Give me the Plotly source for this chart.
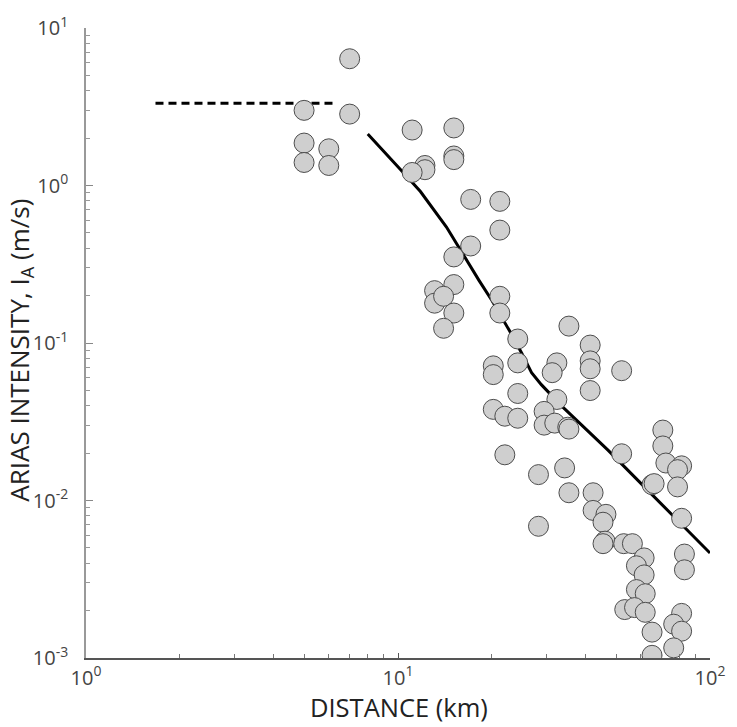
import plotly.graph_objects as go

# Recorded Arias intensity against source distance
distance_km = [
    5.0, 5.0, 5.0, 6.0, 6.0, 7.0, 7.0,
    11.1, 15.1, 15.1, 15.1, 12.2, 12.2, 11.1, 17.1, 21.2, 21.2, 17.1, 15.1,
    15.1, 13.1, 13.1, 14.0, 15.1, 14.0, 21.2, 21.2, 24.2,
    35.3, 41.3, 41.3, 41.3, 20.2, 20.2, 24.2, 32.3, 31.2, 41.3, 24.2, 32.3,
    20.2, 22.0, 24.2, 29.4, 29.4, 31.8, 35.0, 35.3, 22.0, 28.2, 34.2, 35.3,
    42.2, 28.2, 52.1,
    70.6, 70.6, 72.2, 81.1, 78.7, 65.2, 66.2, 78.7, 52.1, 81.1, 82.8, 82.8,
    42.2, 46.4, 45.4, 46.1, 45.4, 52.9, 56.4, 61.5, 58.1, 61.5, 58.1, 62.0,
    53.3, 57.3, 62.0, 65.2, 65.2, 81.1, 76.5, 81.1, 76.5,
]
arias_ms = [
    3.00, 1.86, 1.40, 1.71, 1.34, 6.38, 2.84,
    2.25, 2.32, 1.54, 1.46, 1.34, 1.26, 1.21, 0.816, 0.793, 0.521, 0.413, 0.352,
    0.235, 0.215, 0.179, 0.198, 0.155, 0.124, 0.198, 0.155, 0.106,
    0.128, 0.097, 0.077, 0.0686, 0.0716, 0.0630, 0.0748, 0.0748, 0.0648, 0.0499, 0.0478, 0.0438,
    0.0379, 0.0343, 0.0333, 0.0368, 0.0301, 0.0310, 0.0292, 0.0284, 0.0195, 0.0146, 0.0161, 0.0112,
    0.0112, 0.00686, 0.0667,
    0.0280, 0.0222, 0.0173, 0.0166, 0.0157, 0.0126, 0.0128, 0.0122, 0.0198, 0.00771, 0.00457, 0.00363,
    0.00865, 0.00817, 0.00728, 0.00552, 0.00532, 0.00532, 0.00532, 0.00432, 0.00385, 0.00337, 0.00272, 0.00256,
    0.00203, 0.00209, 0.00195, 0.00146, 0.00104, 0.00192, 0.00164, 0.00148, 0.00116,
]

# Attenuation relation (solid) and near-field plateau (dashed)
fit_x = [8.0, 9.04, 10.2, 11.8, 14.3, 18.2, 20.0, 22.8, 24.9, 26.8,
         28.8, 33.3, 47.1, 65.2, 100.0]
fit_y = [2.12, 1.64, 1.26, 0.916, 0.545, 0.249, 0.186, 0.119, 0.0865,
         0.0647, 0.0544, 0.0402, 0.0209, 0.0109, 0.00464]
plateau_x = [1.67, 6.2]
plateau_y = [3.33, 3.33]

x_ticks = [1, 10, 100]
x_tick_text = ["10<sup>0</sup>", "10<sup>1</sup>", "10<sup>2</sup>"]
y_ticks = [0.001, 0.01, 0.1, 1, 10]
y_tick_text = ["10<sup>-3</sup>", "10<sup>-2</sup>", "10<sup>-1</sup>",
               "10<sup>0</sup>", "10<sup>1</sup>"]

x_minor = [m * d for d in (1, 10) for m in range(2, 10)]
y_minor = [m * d for d in (0.001, 0.01, 0.1, 1) for m in range(2, 10)]

FONT = "Open Sans, Noto Sans, sans-serif"

fig = go.Figure()
fig.add_trace(go.Scatter(
    x=fit_x, y=fit_y, mode="lines",
    line=dict(color="black", width=3), hoverinfo="skip",
))
fig.add_trace(go.Scatter(
    x=plateau_x, y=plateau_y, mode="lines",
    line=dict(color="black", width=3, dash="8px,5px"), hoverinfo="skip",
))
fig.add_trace(go.Scatter(
    x=distance_km, y=arias_ms, mode="markers",
    marker=dict(size=20, color="#cfcfcf", line=dict(color="#4d4d4d", width=1)),
))

fig.update_layout(
    width=737, height=727,
    margin=dict(l=86, r=15, t=22, b=69),
    paper_bgcolor="white", plot_bgcolor="white",
    showlegend=False,
    font=dict(family=FONT, color="#333333"),
    annotations=[
        dict(text="DISTANCE (km)", xref="paper", yref="paper",
             x=0.5016, y=-0.0785, xanchor="center", yanchor="middle",
             showarrow=False, font=dict(size=25.5, color="#222222")),
        dict(text="ARIAS INTENSITY, I<sub>A</sub> (m/s)", xref="paper", yref="paper",
             x=-0.106, y=0.489, xanchor="center", yanchor="middle", textangle=-90,
             showarrow=False, font=dict(size=26, color="#222222")),
    ],
)
fig.update_xaxes(
    type="log", range=[0, 2],
    tickmode="array", tickvals=x_ticks, ticktext=x_tick_text,
    tickfont=dict(size=20, color="#444444"),
    ticks="inside", ticklen=5, tickcolor="#555555",
    ticklabelstandoff=1, ticklabeloverflow="allow",
    minor=dict(tickmode="array", tickvals=x_minor, ticks="inside",
               ticklen=4, tickcolor="#777777", showgrid=False),
    showline=True, linecolor="#555555", linewidth=1.5,
    showgrid=False, zeroline=False,
)
fig.update_yaxes(
    type="log", range=[-3, 1],
    tickmode="array", tickvals=y_ticks, ticktext=y_tick_text,
    tickfont=dict(size=20, color="#444444"),
    ticks="inside", ticklen=7, tickcolor="#888888",
    ticklabelstandoff=12,
    minor=dict(tickmode="array", tickvals=y_minor, ticks="inside",
               ticklen=4, tickcolor="#999999", showgrid=False),
    showline=True, linecolor="#999999", linewidth=1.5,
    showgrid=False, zeroline=False,
)

fig.write_html("out.html")
